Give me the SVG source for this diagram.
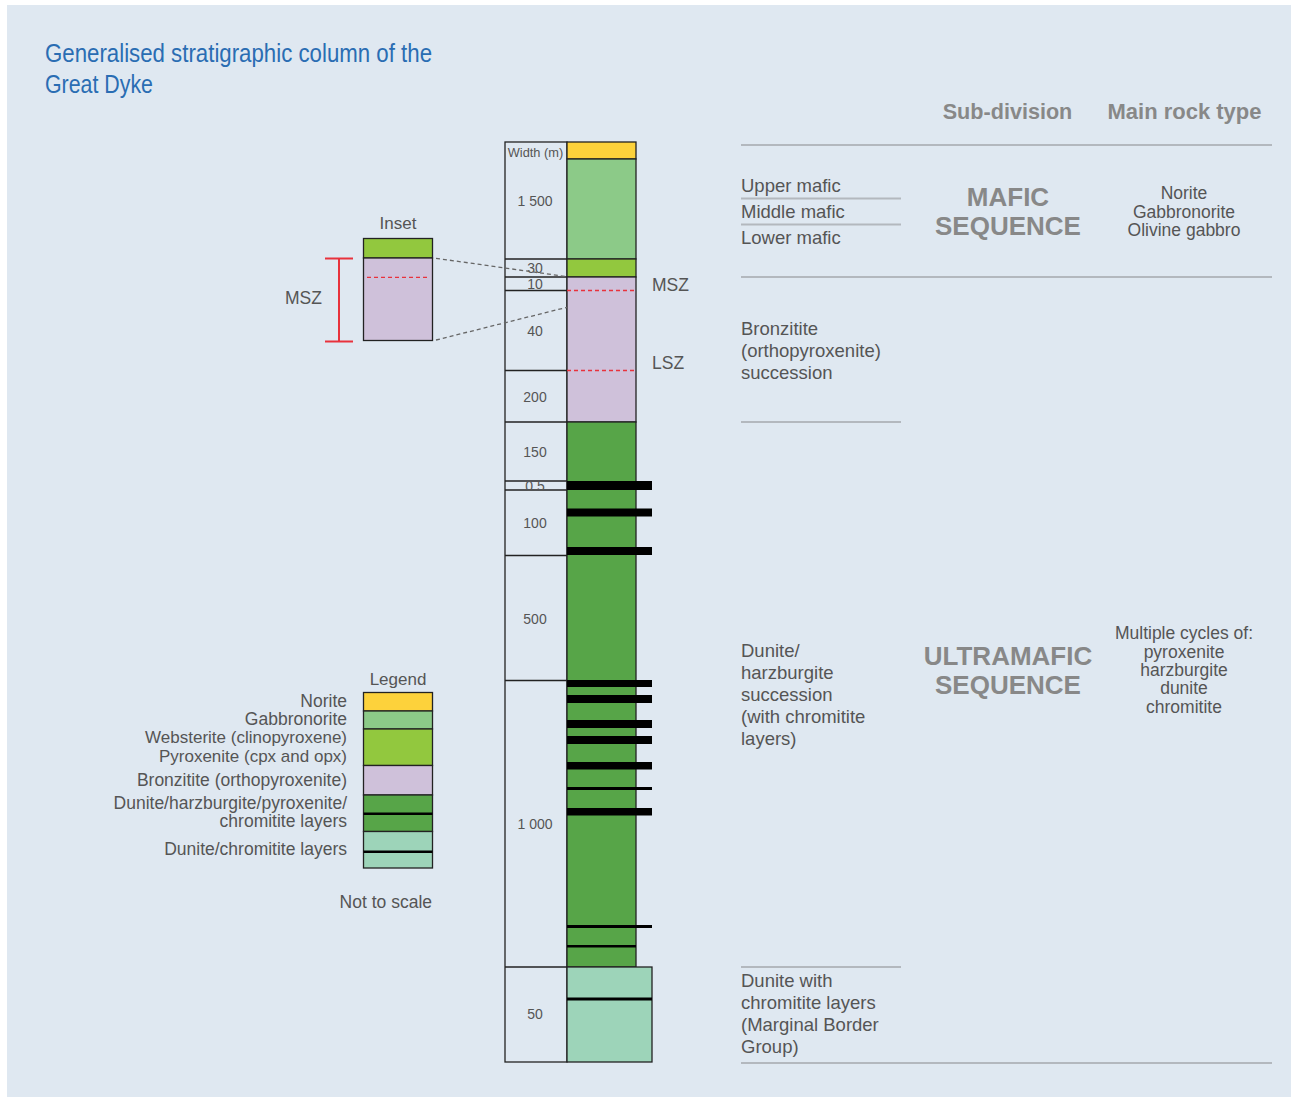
<svg xmlns="http://www.w3.org/2000/svg" width="1291" height="1097" viewBox="0 0 1291 1097">
<style>
.lbl{font-family:"Liberation Sans",Arial,sans-serif;fill:#555;}
.hdr{font-family:"Liberation Sans",Arial,sans-serif;fill:#888;font-weight:bold;}
.num{font-family:"Liberation Sans",Arial,sans-serif;fill:#555;font-size:14px;text-anchor:middle;}
.col{stroke:#222;stroke-width:1.3;}
.div{stroke:#222;stroke-width:1.3;}
.rule{stroke:#b3b8be;stroke-width:2;}
.bar{fill:#000;}
.red{stroke:#e8323c;stroke-width:1.3;stroke-dasharray:4 3;fill:none;}
.grey{stroke:#666;stroke-width:1.3;stroke-dasharray:4 3;fill:none;}
</style>
<rect x="0" y="0" width="1291" height="1097" fill="#ffffff"/>
<rect x="7" y="5" width="1284" height="1092" fill="#dfe8f1"/>

<g id="title">
<text x="45" y="62" font-family="'Liberation Sans Narrow','Liberation Sans',Arial,sans-serif" font-size="25" fill="#2a6db3" textLength="387" lengthAdjust="spacingAndGlyphs">Generalised stratigraphic column of the</text>
<text x="45" y="93" font-family="'Liberation Sans Narrow','Liberation Sans',Arial,sans-serif" font-size="25" fill="#2a6db3" textLength="108" lengthAdjust="spacingAndGlyphs">Great Dyke</text>
</g>

<g id="width-column">
<rect x="505" y="142" width="62" height="920" fill="none" class="col"/>
<g class="div">
<line x1="505" y1="259" x2="567" y2="259"/>
<line x1="505" y1="277" x2="567" y2="277"/>
<line x1="505" y1="290.5" x2="567" y2="290.5"/>
<line x1="505" y1="370.5" x2="567" y2="370.5"/>
<line x1="505" y1="422" x2="567" y2="422"/>
<line x1="505" y1="481" x2="567" y2="481"/>
<line x1="505" y1="490" x2="567" y2="490"/>
<line x1="505" y1="555.5" x2="567" y2="555.5"/>
<line x1="505" y1="680.5" x2="567" y2="680.5"/>
<line x1="505" y1="967" x2="567" y2="967"/>
</g>
<text x="535.5" y="157" class="num" style="font-size:12.8px">Width (m)</text>
<text x="535" y="206" class="num">1 500</text>
<text x="535" y="273" class="num">30</text>
<text x="535" y="289" class="num">10</text>
<text x="535" y="336" class="num">40</text>
<text x="535" y="402" class="num">200</text>
<text x="535" y="457" class="num">150</text>
<text x="535" y="491" class="num">0.5</text>
<text x="535" y="528" class="num">100</text>
<text x="535" y="624" class="num">500</text>
<text x="535" y="829" class="num">1 000</text>
<text x="535" y="1019" class="num">50</text>
</g>

<g id="rock-column">
<rect x="567" y="142" width="69" height="17" fill="#fdd23b" class="col"/>
<rect x="567" y="159" width="69" height="100" fill="#8cca88" class="col"/>
<rect x="567" y="259" width="69" height="18" fill="#92c83e" class="col"/>
<rect x="567" y="277" width="69" height="145" fill="#cfc1da" class="col"/>
<rect x="567" y="422" width="69" height="545" fill="#57a548" class="col"/>
<rect x="567" y="967" width="85" height="95" fill="#9dd4b9" class="col"/>
<line x1="567" y1="290.5" x2="636" y2="290.5" class="red"/>
<line x1="567" y1="370.5" x2="636" y2="370.5" class="red"/>
<rect x="567" y="481" width="85" height="9" class="bar"/>
<rect x="567" y="508.5" width="85" height="8" class="bar"/>
<rect x="567" y="547" width="85" height="8" class="bar"/>
<rect x="567" y="680" width="85" height="7" class="bar"/>
<rect x="567" y="695" width="85" height="8" class="bar"/>
<rect x="567" y="720" width="85" height="8" class="bar"/>
<rect x="567" y="736" width="85" height="8" class="bar"/>
<rect x="567" y="762" width="85" height="7.5" class="bar"/>
<rect x="567" y="787" width="85" height="3" class="bar"/>
<rect x="567" y="808" width="85" height="7.5" class="bar"/>
<rect x="567" y="925" width="85" height="3" class="bar"/>
<rect x="567" y="945" width="69" height="2.5" class="bar"/>
<rect x="567" y="997.5" width="85" height="3" class="bar"/>
<text x="652" y="291" class="lbl" font-size="17.5">MSZ</text>
<text x="652" y="369" class="lbl" font-size="17.5">LSZ</text>
</g>

<g id="inset">
<text x="398" y="229" class="lbl" font-size="17" text-anchor="middle">Inset</text>
<rect x="363.5" y="238.5" width="69" height="19.5" fill="#92c83e" class="col"/>
<rect x="363.5" y="258" width="69" height="82.5" fill="#cfc1da" class="col"/>
<line x1="367" y1="277.3" x2="430" y2="277.3" class="red"/>
<g stroke="#e8323c" stroke-width="2" fill="none">
<line x1="339" y1="258.5" x2="339" y2="341.5"/>
<line x1="325" y1="258.5" x2="353" y2="258.5"/>
<line x1="325" y1="341.5" x2="353" y2="341.5"/>
</g>
<text x="285" y="304" class="lbl" font-size="17.5">MSZ</text>
</g>

<g id="connectors">
<line x1="436" y1="258.3" x2="567" y2="276.7" class="grey"/>
<line x1="436" y1="340" x2="567" y2="307.3" class="grey"/>
</g>

<g id="legend">
<text x="398" y="685" class="lbl" font-size="17" text-anchor="middle">Legend</text>
<rect x="363.5" y="692.5" width="69" height="18.5" fill="#fdd23b" class="col"/>
<rect x="363.5" y="711" width="69" height="18" fill="#8cca88" class="col"/>
<rect x="363.5" y="729" width="69" height="36.5" fill="#92c83e" class="col"/>
<rect x="363.5" y="765.5" width="69" height="29.5" fill="#cfc1da" class="col"/>
<rect x="363.5" y="795" width="69" height="36.5" fill="#57a548" class="col"/>
<rect x="363.5" y="812.5" width="69" height="2.5" class="bar"/>
<rect x="363.5" y="831.5" width="69" height="36.5" fill="#9dd4b9" class="col"/>
<rect x="363.5" y="850.5" width="69" height="2.5" class="bar"/>
<g class="lbl" font-size="17.5" text-anchor="end">
<text x="347" y="707">Norite</text>
<text x="347" y="725">Gabbronorite</text>
<text x="347" y="743" font-size="17">Websterite (clinopyroxene)</text>
<text x="347" y="762" font-size="17">Pyroxenite (cpx and opx)</text>
<text x="347" y="786">Bronzitite (orthopyroxenite)</text>
<text x="347" y="809">Dunite/harzburgite/pyroxenite/</text>
<text x="347" y="827">chromitite layers</text>
<text x="347" y="855">Dunite/chromitite layers</text>
<text x="432" y="908">Not to scale</text>
</g>
</g>

<g id="table">
<g class="rule">
<line x1="741" y1="145" x2="1272" y2="145"/>
<line x1="741" y1="198.5" x2="901" y2="198.5"/>
<line x1="741" y1="224.5" x2="901" y2="224.5"/>
<line x1="741" y1="277" x2="1272" y2="277"/>
<line x1="741" y1="422" x2="901" y2="422"/>
<line x1="741" y1="967" x2="901" y2="967"/>
<line x1="741" y1="1063" x2="1272" y2="1063"/>
</g>
<text x="1007.5" y="119" class="hdr" font-size="21.6" text-anchor="middle">Sub-division</text>
<text x="1184.5" y="119" class="hdr" font-size="22" text-anchor="middle">Main rock type</text>
<g class="lbl" font-size="18.5">
<text x="741" y="192">Upper mafic</text>
<text x="741" y="218">Middle mafic</text>
<text x="741" y="244">Lower mafic</text>
<text x="741" y="335">Bronzitite</text>
<text x="741" y="357">(orthopyroxenite)</text>
<text x="741" y="379">succession</text>
<text x="741" y="657">Dunite/</text>
<text x="741" y="679">harzburgite</text>
<text x="741" y="701">succession</text>
<text x="741" y="723">(with chromitite</text>
<text x="741" y="745">layers)</text>
<text x="741" y="987">Dunite with</text>
<text x="741" y="1009">chromitite layers</text>
<text x="741" y="1031">(Marginal Border</text>
<text x="741" y="1053">Group)</text>
</g>
<g class="hdr" font-size="26" text-anchor="middle">
<text x="1008" y="206">MAFIC</text>
<text x="1008" y="235">SEQUENCE</text>
<text x="1008" y="665">ULTRAMAFIC</text>
<text x="1008" y="694">SEQUENCE</text>
</g>
<g class="lbl" font-size="17.5" text-anchor="middle">
<text x="1184" y="199">Norite</text>
<text x="1184" y="218">Gabbronorite</text>
<text x="1184" y="236">Olivine gabbro</text>
<text x="1184" y="639">Multiple cycles of:</text>
<text x="1184" y="658">pyroxenite</text>
<text x="1184" y="676">harzburgite</text>
<text x="1184" y="694">dunite</text>
<text x="1184" y="713">chromitite</text>
</g>
</g>
</svg>
